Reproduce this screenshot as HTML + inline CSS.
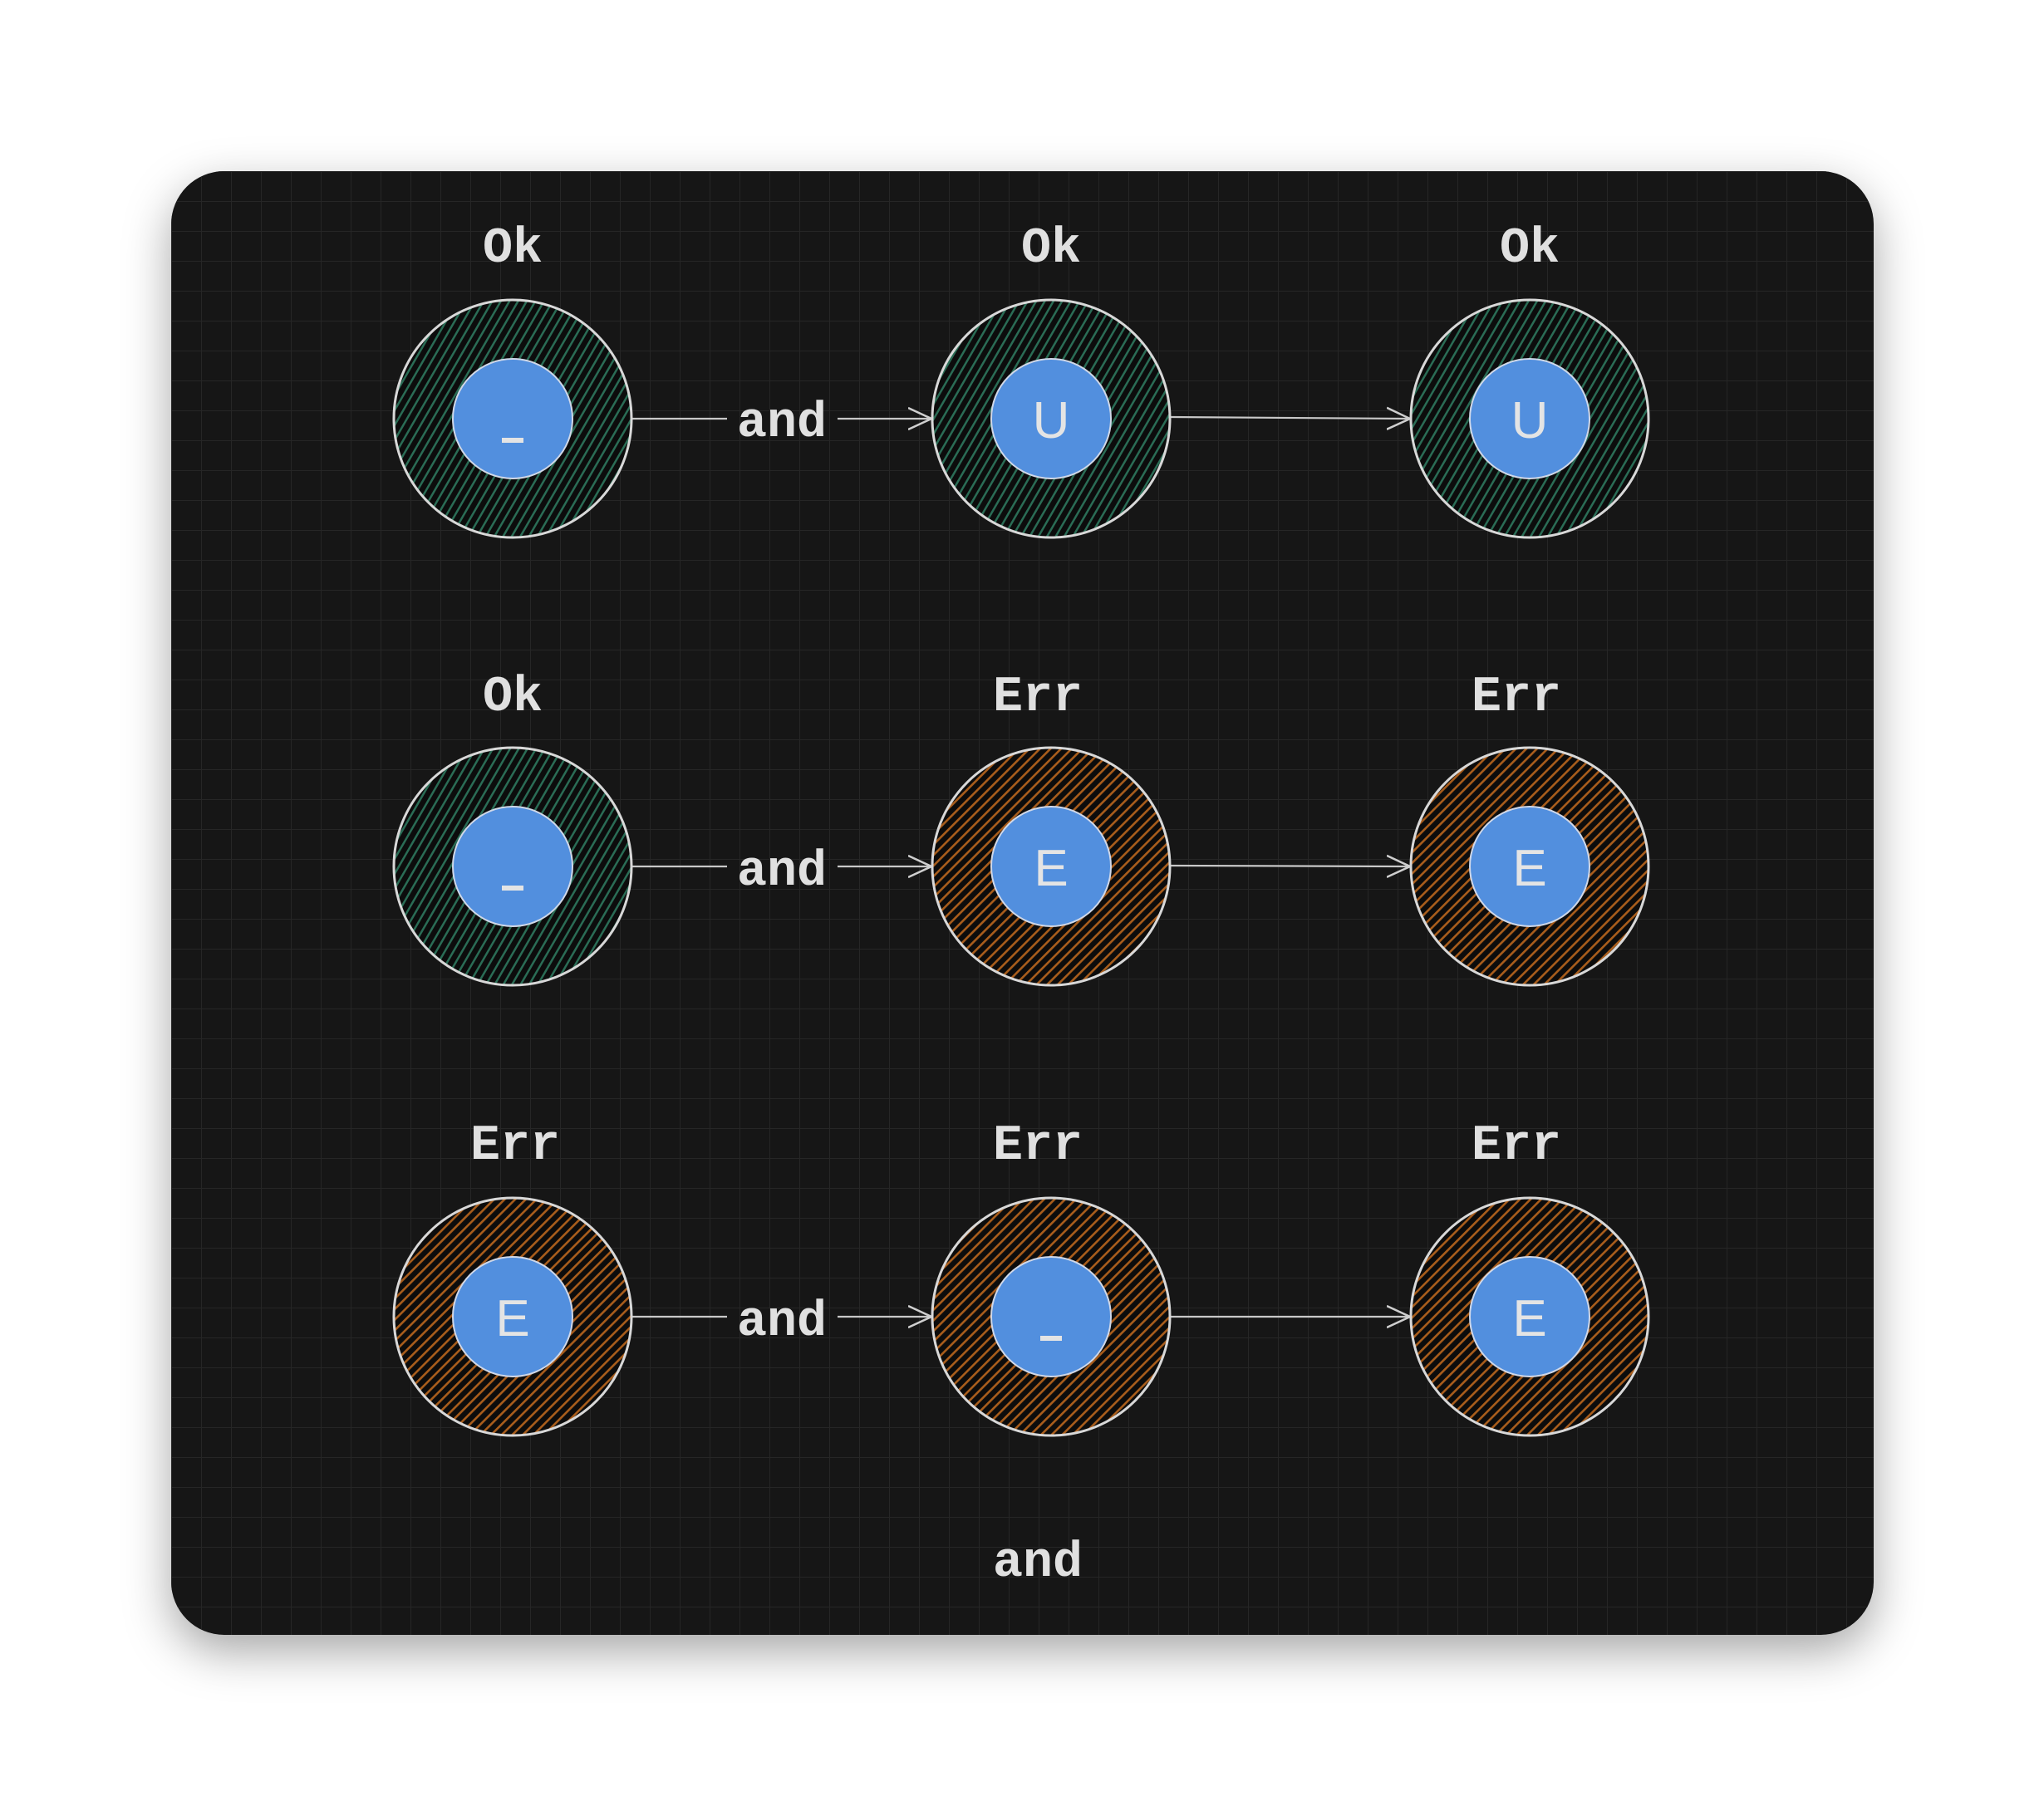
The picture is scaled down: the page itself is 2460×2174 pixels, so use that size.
<!DOCTYPE html>
<html><head><meta charset="utf-8"><style>
html,body{margin:0;padding:0;background:#fff;}
body{width:2460px;height:2174px;position:relative;overflow:hidden;}
</style></head><body>
<svg width="2460" height="2174" viewBox="0 0 2460 2174" xmlns="http://www.w3.org/2000/svg" style="position:absolute;left:0;top:0">
<defs>
<filter id="sh" x="-10%" y="-10%" width="120%" height="125%"><feDropShadow dx="0" dy="20" stdDeviation="28" flood-color="#000" flood-opacity="0.35"/></filter>
<pattern id="grid" width="36" height="36" patternUnits="userSpaceOnUse" x="206" y="206">
<path d="M0 0H36M0 0V36" stroke="#262626" stroke-width="2" fill="none"/>
</pattern>
<pattern id="hg" width="9" height="9" patternUnits="userSpaceOnUse" patternTransform="rotate(30)">
<rect width="9" height="9" fill="#0c0c0c"/><line x1="1" y1="0" x2="1" y2="9" stroke="#2a6c55" stroke-width="3"/>
</pattern>
<pattern id="ho" width="9" height="9" patternUnits="userSpaceOnUse" patternTransform="rotate(45)">
<rect width="9" height="9" fill="#0c0c0c"/><line x1="1" y1="0" x2="1" y2="9" stroke="#a85d1c" stroke-width="3.2"/>
</pattern>
<marker id="ar" markerWidth="30" markerHeight="30" refX="28" refY="15" orient="auto" markerUnits="userSpaceOnUse">
<path d="M0 2 L28 15 L0 28" stroke="#cfcfcf" stroke-width="2.5" fill="none"/>
</marker>
</defs>
<rect x="206" y="206" width="2049" height="1762" rx="64" fill="#121212" filter="url(#sh)"/>
<rect x="206" y="206" width="2049" height="1762" rx="64" fill="url(#grid)"/>
<g font-family="'Liberation Mono', monospace" font-size="60" font-weight="bold" fill="#e0e0e0" text-anchor="middle">
<text x="617" y="315">Ok</text><text x="1265" y="315">Ok</text><text x="1841" y="315">Ok</text>
<text x="617" y="855">Ok</text><text x="1249" y="855">Err</text><text x="1825" y="855">Err</text>
<text x="620" y="1395">Err</text><text x="1249" y="1395">Err</text><text x="1825" y="1395">Err</text>
<text x="941" y="525">and</text><text x="941" y="1065">and</text><text x="941" y="1607">and</text>
<text x="1249" y="1897">and</text>
</g>
<g stroke="#c8c8c8" stroke-width="2.2" fill="none">
<path d="M761 504H875"/><path d="M1008 504H1121" marker-end="url(#ar)"/>
<path d="M1409 502L1697 504" marker-end="url(#ar)"/>
<path d="M761 1043H875"/><path d="M1008 1043H1121" marker-end="url(#ar)"/>
<path d="M1409 1042L1697 1043" marker-end="url(#ar)"/>
<path d="M761 1585H875"/><path d="M1008 1585H1121" marker-end="url(#ar)"/>
<path d="M1409 1585L1697 1585" marker-end="url(#ar)"/>
</g>
<g stroke="#d8d8d8" stroke-width="3">
<circle cx="617" cy="504" r="143" fill="url(#hg)"/>
<circle cx="1265" cy="504" r="143" fill="url(#hg)"/>
<circle cx="1841" cy="504" r="143" fill="url(#hg)"/>
<circle cx="617" cy="1043" r="143" fill="url(#hg)"/>
<circle cx="1265" cy="1043" r="143" fill="url(#ho)"/>
<circle cx="1841" cy="1043" r="143" fill="url(#ho)"/>
<circle cx="617" cy="1585" r="143" fill="url(#ho)"/>
<circle cx="1265" cy="1585" r="143" fill="url(#ho)"/>
<circle cx="1841" cy="1585" r="143" fill="url(#ho)"/>
</g>
<g fill="#528fde" stroke="#d0d8e8" stroke-width="2">
<circle cx="617" cy="504" r="72"/><circle cx="1265" cy="504" r="72"/><circle cx="1841" cy="504" r="72"/>
<circle cx="617" cy="1043" r="72"/><circle cx="1265" cy="1043" r="72"/><circle cx="1841" cy="1043" r="72"/>
<circle cx="617" cy="1585" r="72"/><circle cx="1265" cy="1585" r="72"/><circle cx="1841" cy="1585" r="72"/>
</g>
<g font-family="'Liberation Sans', sans-serif" font-size="62" fill="#e4e4e4" text-anchor="middle">
<text x="1265" y="527">U</text><text x="1841" y="527">U</text>
<text x="1265" y="1066">E</text><text x="1841" y="1066">E</text>
<text x="617" y="1608">E</text><text x="1841" y="1608">E</text>
</g>
<g fill="#e4e4e4">
<rect x="604" y="527" width="26" height="6"/>
<rect x="604" y="1066" width="26" height="6"/>
<rect x="1252" y="1608" width="26" height="6"/>
</g>
</svg>
</body></html>
